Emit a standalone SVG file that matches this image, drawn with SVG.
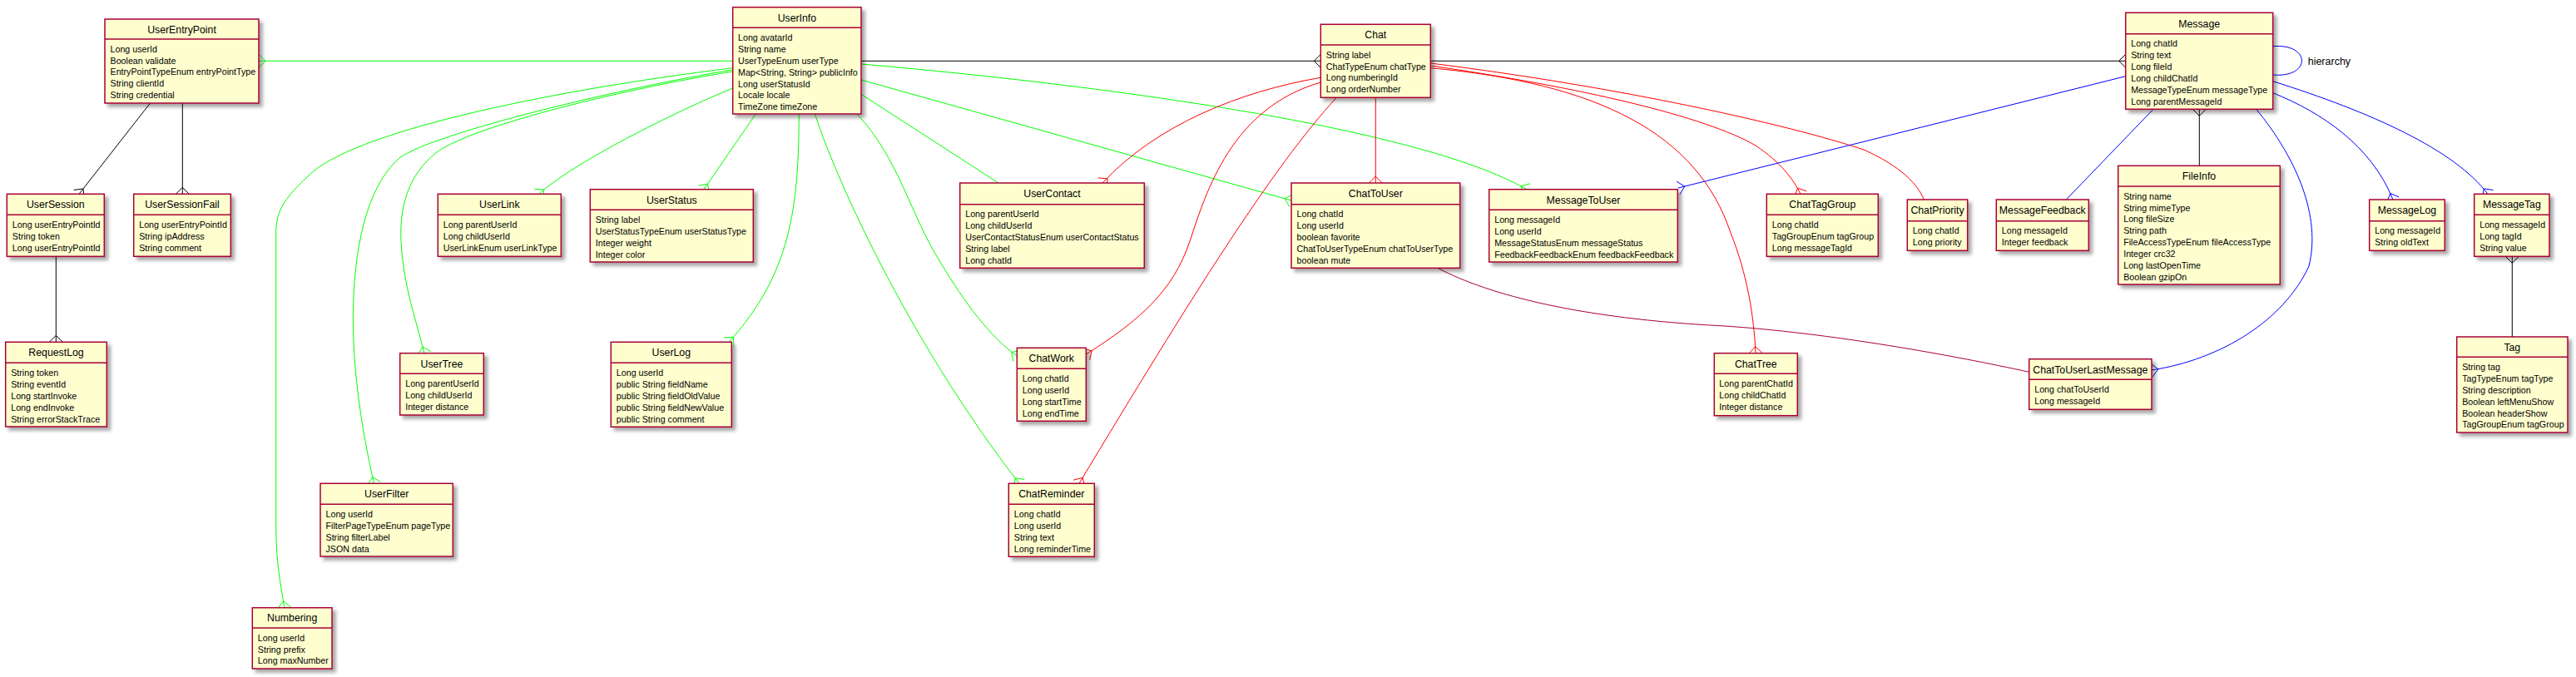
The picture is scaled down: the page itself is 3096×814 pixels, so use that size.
<svg xmlns="http://www.w3.org/2000/svg" width="3096" height="814" viewBox="0 0 3096 814">
<defs>
<filter id="sh" x="-10%" y="-10%" width="130%" height="140%">
<feGaussianBlur in="SourceAlpha" stdDeviation="2"/>
<feOffset dx="4" dy="4"/>
<feComponentTransfer><feFuncA type="linear" slope="0.35"/></feComponentTransfer>
<feMerge><feMergeNode/><feMergeNode in="SourceGraphic"/></feMerge>
</filter>
</defs>
<style>
.box{fill:#FEFECE;stroke:#A80036;stroke-width:1.5;filter:url(#sh)}
.sep{stroke:#A80036;stroke-width:1.5}
.t{font-family:"Liberation Sans",Arial,sans-serif;font-size:12.3px;fill:#000;text-anchor:middle}
.a{font-family:"Liberation Sans",Arial,sans-serif;font-size:10.7px;fill:#000}
.lbl{font-family:"Liberation Sans",Arial,sans-serif;font-size:12.5px;fill:#000}
path{fill:none;stroke-width:1}
.g{stroke:#00FF00}.r{stroke:#FF0000}.b{stroke:#0000FF}.k{stroke:#000000}.c{stroke:#A80036}
</style>
<rect x="0" y="0" width="3096" height="814" fill="#FFFFFF"/>
<g id="connectors">
<!-- UserInfo -> UserEntryPoint -->
<path class="g" d="M880.7,73.3 L311,73.3"/><path class="g" d="M311,65.3 L319,73.3 L311,81.3"/>
<!-- UserEntryPoint -> UserSession -->
<path class="k" d="M180.5,124 L95,233.3"/><path class="k" d="M101.3,238.2 L99.9,227 L88.7,228.4"/>
<!-- UserEntryPoint -> UserSessionFail -->
<path class="k" d="M219.3,124 L219.3,233.3"/><path class="k" d="M211.3,233.3 L219.3,225.3 L227.3,233.3"/>
<!-- UserSession -> RequestLog -->
<path class="k" d="M67.3,308.3 L67.3,411.3"/><path class="k" d="M59.3,411.3 L67.3,403.3 L75.3,411.3"/>
<!-- UserInfo -> Numbering -->
<path class="g" d="M880.7,81.7 C650,110 420,160 370,212 C340,240 331.7,255 331.7,280 L331.7,630 C331.7,680 338,705 341.7,730.7"/>
<path class="g" d="M349.6,729.6 L340.6,722.8 L333.8,731.8"/>
<!-- UserInfo -> UserFilter -->
<path class="g" d="M880.7,84 C750,105 520,160 480,190 C440,225 425,300 424.3,380 C424,460 440,540 449.5,581.3"/>
<path class="g" d="M457.3,579.5 L447.7,573.5 L441.7,583.1"/>
<!-- UserInfo -> UserTree -->
<path class="g" d="M880.7,86 C760,105 570,150 525,183 C490,210 480,250 482,290 C484,340 500,385 510,424.7"/>
<path class="g" d="M517.8,422.7 L508,417 L502.2,426.7"/>
<!-- UserInfo -> UserLink -->
<path class="g" d="M880.7,106 C810,135 690,195 647.7,233.3"/>
<path class="g" d="M653.1,239.2 L653.6,227.9 L642.3,227.4"/>
<!-- UserInfo -> UserStatus -->
<path class="g" d="M908.3,137 L846,227.7"/>
<path class="g" d="M852.6,232.2 L850.5,221.1 L839.4,223.2"/>
<!-- UserInfo -> UserLog -->
<path class="g" d="M960.3,137 C960,250 950,330 876,411.3"/>
<path class="g" d="M881.9,416.7 L881.4,405.4 L870.1,405.9"/>
<!-- UserInfo -> ChatReminder -->
<path class="g" d="M979.3,137 C1010,230 1100,420 1225,581.3"/>
<path class="g" d="M1231.3,576.4 L1220.1,575 L1218.7,586.2"/>
<!-- UserInfo -> ChatWork -->
<path class="g" d="M1030,137 C1080,190 1095,260 1130,315 C1160,365 1190,405 1222.3,428"/>
<path class="g" d="M1227,421.5 L1215.8,423.4 L1217.7,434.5"/>
<!-- UserInfo -> UserContact -->
<path class="g" d="M1035,113.3 L1200,220"/>
<!-- UserInfo -> ChatToUser -->
<path class="g" d="M1035,96 L1552,241"/>
<path class="g" d="M1554.2,233.3 L1544.3,238.8 L1549.8,248.7"/>
<!-- UserInfo -> MessageToUser -->
<path class="g" d="M1035,77 C1300,100 1700,150 1835,227.7"/>
<path class="g" d="M1839,220.8 L1828.1,223.7 L1831,234.6"/>
<!-- UserInfo -> Chat -->
<path class="k" d="M1035,73.3 L1587.3,73.3"/>
<path class="k" d="M1587.3,65.3 L1579.3,73.3 L1587.3,81.3"/>
<!-- Chat -> UserContact -->
<path class="r" d="M1587.3,93.3 C1490,110 1390,150 1325,220"/>
<path class="r" d="M1330,226.2 L1331.2,215 L1320,213.8"/>
<!-- Chat -> ChatWork -->
<path class="r" d="M1587.3,99 C1480,130 1450,230 1430,290 C1410,350 1370,385 1305.3,426"/>
<path class="r" d="M1309.6,432.8 L1312.1,421.7 L1301,419.2"/>
<!-- Chat -> ChatReminder -->
<path class="r" d="M1606.3,117.3 C1530,200 1430,360 1297,581.3"/>
<path class="r" d="M1303.9,585.4 L1301.1,574.4 L1290.1,577.2"/>
<!-- Chat -> Message -->
<path class="k" d="M1719.3,73.3 L2554.7,73.3"/>
<path class="k" d="M2554.7,65.3 L2546.7,73.3 L2554.7,81.3"/>
<!-- Chat -> ChatToUser -->
<path class="r" d="M1653.3,117.3 L1653.3,220"/>
<path class="r" d="M1645.3,220 L1653.3,212 L1661.3,220"/>
<!-- Chat -> ChatPriority -->
<path class="r" d="M1719.3,76 C1950,105 2150,150 2240,180 C2285,200 2305,222 2312.3,240"/>
<!-- Chat -> ChatTagGroup -->
<path class="r" d="M1719.3,79 C1900,105 2050,140 2110,175 C2140,195 2155,215 2164,233.3"/>
<path class="r" d="M2171.2,229.8 L2160.5,226.1 L2156.8,236.8"/>
<!-- Chat -> ChatTree -->
<path class="r" d="M1719.3,81.7 C1920,100 2040,160 2080,280 C2100,330 2108,380 2110,424.7"/>
<path class="r" d="M2118,424.3 L2109.6,416.7 L2102,425.1"/>
<!-- ChatToUser -> ChatToUserLastMessage -->
<path class="c" d="M1728,322.3 C1790,355 1900,383 2068,391.7 C2200,400 2350,428 2438.7,447.3"/>
<!-- Message -> MessageToUser -->
<path class="b" d="M2554.7,91.7 L2017,226"/>
<path class="b" d="M2018.9,233.8 L2024.8,224.1 L2015.1,218.2"/>
<!-- Message -> MessageFeedback -->
<path class="b" d="M2588,131.3 L2483.3,240"/>
<!-- Message -> FileInfo -->
<path class="k" d="M2643.3,131.3 L2643.3,199.3"/>
<path class="k" d="M2635.3,131.3 L2643.3,139.3 L2651.3,131.3"/>
<!-- Message hierarchy -->
<path class="b" d="M2731.7,55.7 C2778,52 2778,94 2731.7,90"/>
<text class="lbl" x="2773.7" y="77.5">hierarchy</text>
<!-- Message -> MessageLog -->
<path class="b" d="M2731.7,111.7 C2790,135 2850,175 2876,240"/>
<path class="b" d="M2883.4,237 L2873,232.6 L2868.6,243"/>
<!-- Message -> MessageTag -->
<path class="b" d="M2731.7,97.7 C2850,135 2950,180 2990,233.3"/>
<path class="b" d="M2996.4,228.5 L2985.2,226.9 L2983.6,238.1"/>
<!-- MessageTag -> Tag -->
<path class="k" d="M3019.3,308.3 L3019.3,405"/>
<path class="k" d="M3011.3,308.3 L3019.3,316.3 L3027.3,308.3"/>
<!-- Message -> ChatToUserLastMessage -->
<path class="b" d="M2711.7,131.3 C2760,190 2790,260 2775,320 C2745,385 2670,432 2586,445"/>
<path class="b" d="M2587.2,452.9 L2593.9,443.8 L2584.8,437.1"/>
</g>

<g id="UserEntryPoint">
<rect class="box" x="126" y="23" width="185" height="101"/><line class="sep" x1="126" y1="47" x2="311" y2="47"/>
<text class="t" x="218.5" y="39.5">UserEntryPoint</text>
<text class="a" x="132.5" y="62.6">Long userId</text>
<text class="a" x="132.5" y="76.5">Boolean validate</text>
<text class="a" x="132.5" y="90.4">EntryPointTypeEnum entryPointType</text>
<text class="a" x="132.5" y="104.3">String clientId</text>
<text class="a" x="132.5" y="118.2">String credential</text>
</g>
<g id="UserSession">
<rect class="box" x="8.3" y="233.3" width="117" height="75"/><line class="sep" x1="8.3" y1="258.3" x2="125.3" y2="258.3"/>
<text class="t" x="66.8" y="250.3">UserSession</text>
<text class="a" x="14.8" y="273.9">Long userEntryPointId</text>
<text class="a" x="14.8" y="287.8">String token</text>
<text class="a" x="14.8" y="301.7">Long userEntryPointId</text>
</g>
<g id="UserSessionFail">
<rect class="box" x="160.7" y="233.3" width="116.6" height="75"/><line class="sep" x1="160.7" y1="258.3" x2="277.3" y2="258.3"/>
<text class="t" x="219" y="250.3">UserSessionFail</text>
<text class="a" x="167.2" y="273.9">Long userEntryPointId</text>
<text class="a" x="167.2" y="287.8">String ipAddress</text>
<text class="a" x="167.2" y="301.7">String comment</text>
</g>
<g id="RequestLog">
<rect class="box" x="6.7" y="411.3" width="121.6" height="101.7"/><line class="sep" x1="6.7" y1="436.3" x2="128.3" y2="436.3"/>
<text class="t" x="67.5" y="428.3">RequestLog</text>
<text class="a" x="13.2" y="451.9">String token</text>
<text class="a" x="13.2" y="465.8">String eventId</text>
<text class="a" x="13.2" y="479.7">Long startInvoke</text>
<text class="a" x="13.2" y="493.6">Long endInvoke</text>
<text class="a" x="13.2" y="507.5">String errorStackTrace</text>
</g>
<g id="UserInfo">
<rect class="box" x="880.7" y="8.7" width="154.3" height="128.3"/><line class="sep" x1="880.7" y1="33.3" x2="1035" y2="33.3"/>
<text class="t" x="957.9" y="25.5">UserInfo</text>
<text class="a" x="887" y="48.9">Long avatarId</text>
<text class="a" x="887" y="62.8">String name</text>
<text class="a" x="887" y="76.7">UserTypeEnum userType</text>
<text class="a" x="887" y="90.6">Map&lt;String, String&gt; publicInfo</text>
<text class="a" x="887" y="104.5">Long userStatusId</text>
<text class="a" x="887" y="118.4">Locale locale</text>
<text class="a" x="887" y="132.3">TimeZone timeZone</text>
</g>
<g id="UserLink">
<rect class="box" x="526.3" y="233.3" width="148" height="75"/><line class="sep" x1="526.3" y1="258.3" x2="674.3" y2="258.3"/>
<text class="t" x="600.3" y="250.3">UserLink</text>
<text class="a" x="532.8" y="273.9">Long parentUserId</text>
<text class="a" x="532.8" y="287.8">Long childUserId</text>
<text class="a" x="532.8" y="301.7">UserLinkEnum userLinkType</text>
</g>
<g id="UserStatus">
<rect class="box" x="709.3" y="227.7" width="196" height="87.3"/><line class="sep" x1="709.3" y1="252.3" x2="905.3" y2="252.3"/>
<text class="t" x="807.3" y="244.5">UserStatus</text>
<text class="a" x="715.8" y="267.9">String label</text>
<text class="a" x="715.8" y="281.8">UserStatusTypeEnum userStatusType</text>
<text class="a" x="715.8" y="295.7">Integer weight</text>
<text class="a" x="715.8" y="309.6">Integer color</text>
</g>
<g id="UserTree">
<rect class="box" x="480.7" y="424.7" width="100.6" height="74.3"/><line class="sep" x1="480.7" y1="449.3" x2="581.3" y2="449.3"/>
<text class="t" x="531" y="441.5">UserTree</text>
<text class="a" x="487.2" y="464.9">Long parentUserId</text>
<text class="a" x="487.2" y="478.8">Long childUserId</text>
<text class="a" x="487.2" y="492.7">Integer distance</text>
</g>
<g id="UserFilter">
<rect class="box" x="385" y="581.3" width="159.3" height="87.7"/><line class="sep" x1="385" y1="606.3" x2="544.3" y2="606.3"/>
<text class="t" x="464.7" y="598.3">UserFilter</text>
<text class="a" x="391.5" y="621.9">Long userId</text>
<text class="a" x="391.5" y="635.8">FilterPageTypeEnum pageType</text>
<text class="a" x="391.5" y="649.7">String filterLabel</text>
<text class="a" x="391.5" y="663.6">JSON data</text>
</g>
<g id="Numbering">
<rect class="box" x="303.3" y="730.7" width="95.7" height="73.3"/><line class="sep" x1="303.3" y1="755" x2="399" y2="755"/>
<text class="t" x="351.2" y="747.4">Numbering</text>
<text class="a" x="309.8" y="770.6">Long userId</text>
<text class="a" x="309.8" y="784.5">String prefix</text>
<text class="a" x="309.8" y="798.4">Long maxNumber</text>
</g>
<g id="UserLog">
<rect class="box" x="734.3" y="411.3" width="145" height="102"/><line class="sep" x1="734.3" y1="436.3" x2="879.3" y2="436.3"/>
<text class="t" x="806.8" y="428.3">UserLog</text>
<text class="a" x="740.8" y="451.9">Long userId</text>
<text class="a" x="740.8" y="465.8">public String fieldName</text>
<text class="a" x="740.8" y="479.7">public String fieldOldValue</text>
<text class="a" x="740.8" y="493.6">public String fieldNewValue</text>
<text class="a" x="740.8" y="507.5">public String comment</text>
</g>
<g id="UserContact">
<rect class="box" x="1153.7" y="220" width="221.6" height="102.3"/><line class="sep" x1="1153.7" y1="245.7" x2="1375.3" y2="245.7"/>
<text class="t" x="1264.5" y="237.4">UserContact</text>
<text class="a" x="1160.2" y="261.3">Long parentUserId</text>
<text class="a" x="1160.2" y="275.2">Long childUserId</text>
<text class="a" x="1160.2" y="289.1">UserContactStatusEnum userContactStatus</text>
<text class="a" x="1160.2" y="303">String label</text>
<text class="a" x="1160.2" y="316.9">Long chatId</text>
</g>
<g id="ChatWork">
<rect class="box" x="1222.3" y="418.3" width="83" height="88"/><line class="sep" x1="1222.3" y1="443.3" x2="1305.3" y2="443.3"/>
<text class="t" x="1263.8" y="435.3">ChatWork</text>
<text class="a" x="1228.8" y="458.9">Long chatId</text>
<text class="a" x="1228.8" y="472.8">Long userId</text>
<text class="a" x="1228.8" y="486.7">Long startTime</text>
<text class="a" x="1228.8" y="500.6">Long endTime</text>
</g>
<g id="ChatReminder">
<rect class="box" x="1212.3" y="581.3" width="103" height="88"/><line class="sep" x1="1212.3" y1="606.3" x2="1315.3" y2="606.3"/>
<text class="t" x="1263.8" y="598.3">ChatReminder</text>
<text class="a" x="1218.8" y="621.9">Long chatId</text>
<text class="a" x="1218.8" y="635.8">Long userId</text>
<text class="a" x="1218.8" y="649.7">String text</text>
<text class="a" x="1218.8" y="663.6">Long reminderTime</text>
</g>
<g id="Chat">
<rect class="box" x="1587.3" y="29.3" width="132" height="88"/><line class="sep" x1="1587.3" y1="54" x2="1719.3" y2="54"/>
<text class="t" x="1653.3" y="46.2">Chat</text>
<text class="a" x="1593.8" y="69.6">String label</text>
<text class="a" x="1593.8" y="83.5">ChatTypeEnum chatType</text>
<text class="a" x="1593.8" y="97.4">Long numberingId</text>
<text class="a" x="1593.8" y="111.3">Long orderNumber</text>
</g>
<g id="ChatToUser">
<rect class="box" x="1552" y="220" width="202.7" height="102.3"/><line class="sep" x1="1552" y1="245.7" x2="1754.7" y2="245.7"/>
<text class="t" x="1653.3" y="237.4">ChatToUser</text>
<text class="a" x="1558.5" y="261.3">Long chatId</text>
<text class="a" x="1558.5" y="275.2">Long userId</text>
<text class="a" x="1558.5" y="289.1">boolean favorite</text>
<text class="a" x="1558.5" y="303">ChatToUserTypeEnum chatToUserType</text>
<text class="a" x="1558.5" y="316.9">boolean mute</text>
</g>
<g id="MessageToUser">
<rect class="box" x="1789.7" y="227.7" width="226.6" height="87.3"/><line class="sep" x1="1789.7" y1="252.3" x2="2016.3" y2="252.3"/>
<text class="t" x="1903" y="244.5">MessageToUser</text>
<text class="a" x="1796.2" y="267.9">Long messageId</text>
<text class="a" x="1796.2" y="281.8">Long userId</text>
<text class="a" x="1796.2" y="295.7">MessageStatusEnum messageStatus</text>
<text class="a" x="1796.2" y="309.6">FeedbackFeedbackEnum feedbackFeedback</text>
</g>
<g id="ChatTagGroup">
<rect class="box" x="2123.3" y="233.3" width="134" height="75"/><line class="sep" x1="2123.3" y1="258.3" x2="2257.3" y2="258.3"/>
<text class="t" x="2190.3" y="250.3">ChatTagGroup</text>
<text class="a" x="2129.8" y="273.9">Long chatId</text>
<text class="a" x="2129.8" y="287.8">TagGroupEnum tagGroup</text>
<text class="a" x="2129.8" y="301.7">Long messageTagId</text>
</g>
<g id="ChatPriority">
<rect class="box" x="2292.3" y="240" width="72.4" height="61.3"/><line class="sep" x1="2292.3" y1="265.7" x2="2364.7" y2="265.7"/>
<text class="t" x="2328.5" y="257.4">ChatPriority</text>
<text class="a" x="2298.8" y="281.3">Long chatId</text>
<text class="a" x="2298.8" y="295.2">Long priority</text>
</g>
<g id="ChatTree">
<rect class="box" x="2060.3" y="424.7" width="100" height="75"/><line class="sep" x1="2060.3" y1="449.3" x2="2160.3" y2="449.3"/>
<text class="t" x="2110.3" y="441.5">ChatTree</text>
<text class="a" x="2066.3" y="464.9">Long parentChatId</text>
<text class="a" x="2066.3" y="478.8">Long childChatId</text>
<text class="a" x="2066.3" y="492.7">Integer distance</text>
</g>
<g id="MessageFeedback">
<rect class="box" x="2399.3" y="240" width="111" height="61.3"/><line class="sep" x1="2399.3" y1="265.7" x2="2510.3" y2="265.7"/>
<text class="t" x="2454.8" y="257.4">MessageFeedback</text>
<text class="a" x="2405.8" y="281.3">Long messageId</text>
<text class="a" x="2405.8" y="295.2">Integer feedback</text>
</g>
<g id="Message">
<rect class="box" x="2554.7" y="15.3" width="177" height="116"/><line class="sep" x1="2554.7" y1="40.7" x2="2731.7" y2="40.7"/>
<text class="t" x="2643.2" y="32.5">Message</text>
<text class="a" x="2561.2" y="56.3">Long chatId</text>
<text class="a" x="2561.2" y="70.2">String text</text>
<text class="a" x="2561.2" y="84.1">Long fileId</text>
<text class="a" x="2561.2" y="98">Long childChatId</text>
<text class="a" x="2561.2" y="111.9">MessageTypeEnum messageType</text>
<text class="a" x="2561.2" y="125.8">Long parentMessageId</text>
</g>
<g id="FileInfo">
<rect class="box" x="2545.7" y="199.3" width="194.6" height="142.7"/><line class="sep" x1="2545.7" y1="224" x2="2740.3" y2="224"/>
<text class="t" x="2643" y="216.2">FileInfo</text>
<text class="a" x="2552.2" y="239.6">String name</text>
<text class="a" x="2552.2" y="253.5">String mimeType</text>
<text class="a" x="2552.2" y="267.4">Long fileSize</text>
<text class="a" x="2552.2" y="281.3">String path</text>
<text class="a" x="2552.2" y="295.2">FileAccessTypeEnum fileAccessType</text>
<text class="a" x="2552.2" y="309.1">Integer crc32</text>
<text class="a" x="2552.2" y="323">Long lastOpenTime</text>
<text class="a" x="2552.2" y="336.9">Boolean gzipOn</text>
</g>
<g id="MessageLog">
<rect class="box" x="2847.7" y="240" width="90.6" height="61.3"/><line class="sep" x1="2847.7" y1="265.7" x2="2938.3" y2="265.7"/>
<text class="t" x="2893" y="257.4">MessageLog</text>
<text class="a" x="2854.2" y="281.3">Long messageId</text>
<text class="a" x="2854.2" y="295.2">String oldText</text>
</g>
<g id="MessageTag">
<rect class="box" x="2973.7" y="233.3" width="90.3" height="75"/><line class="sep" x1="2973.7" y1="258.3" x2="3064" y2="258.3"/>
<text class="t" x="3018.9" y="250.3">MessageTag</text>
<text class="a" x="2980.2" y="273.9">Long messageId</text>
<text class="a" x="2980.2" y="287.8">Long tagId</text>
<text class="a" x="2980.2" y="301.7">String value</text>
</g>
<g id="Tag">
<rect class="box" x="2952.7" y="405" width="133.3" height="115"/><line class="sep" x1="2952.7" y1="429.3" x2="3086" y2="429.3"/>
<text class="t" x="3019.3" y="421.7">Tag</text>
<text class="a" x="2959.2" y="444.9">String tag</text>
<text class="a" x="2959.2" y="458.8">TagTypeEnum tagType</text>
<text class="a" x="2959.2" y="472.7">String description</text>
<text class="a" x="2959.2" y="486.6">Boolean leftMenuShow</text>
<text class="a" x="2959.2" y="500.5">Boolean headerShow</text>
<text class="a" x="2959.2" y="514.4">TagGroupEnum tagGroup</text>
</g>
<g id="ChatToUserLastMessage">
<rect class="box" x="2438.7" y="431.7" width="147.3" height="60.6"/><line class="sep" x1="2438.7" y1="456.3" x2="2586" y2="456.3"/>
<text class="t" x="2512.3" y="448.5">ChatToUserLastMessage</text>
<text class="a" x="2445.2" y="471.9">Long chatToUserId</text>
<text class="a" x="2445.2" y="485.8">Long messageId</text>
</g>
</svg>
